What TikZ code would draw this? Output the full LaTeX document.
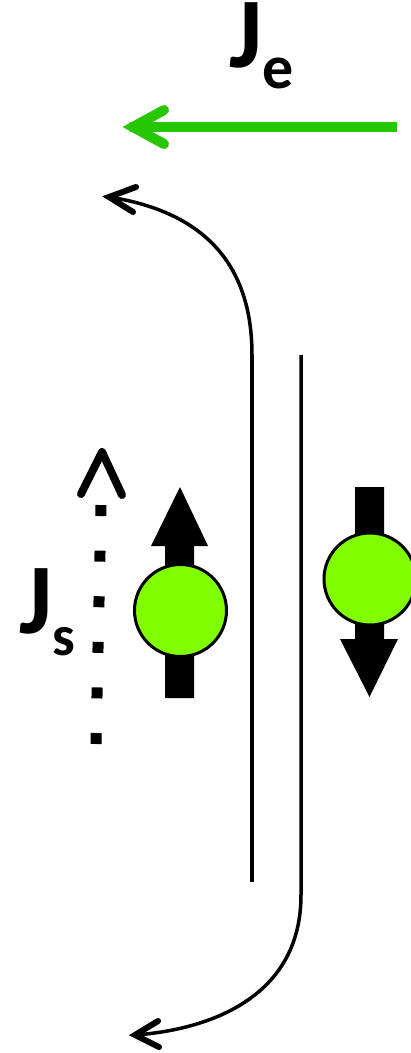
\documentclass[tikz,border=0pt]{standalone}
\usepackage{fontspec}
\setmainfont{Carlito}
\tikzset{
  lbl/.style={inner sep=0pt, anchor=base west, font=\bfseries\fontsize{#1}{#1}\selectfont},
  thinline/.style={line width=3.5pt, black},
  chev/.style={line width=6pt, line cap=round, line join=miter},
  spinball/.style={circle, draw=black, line width=3pt, fill=ballgreen, minimum size=92pt, inner sep=0pt},
}
\definecolor{ballgreen}{RGB}{128,255,0}
\definecolor{jgreen}{RGB}{38,198,0}
\begin{document}
\begin{tikzpicture}[x=1pt,y=-1pt]
\useasboundingbox (0,0) rectangle (411,1053);
% labels
\node[lbl=100] (Je) at (229,67) {J};
\node[lbl=62] (Jesub) at (262,88) {e};
\node[lbl=100] (Js) at (19,633) {J};
\node[lbl=57] (Jssub) at (52,655) {s};
% electron current arrow
\coordinate (ge1) at (397,127);
\coordinate (ge2) at (130,127);
\draw[jgreen, line width=10pt] (ge1) -- (ge2);
\draw[jgreen, line width=10pt, line cap=round, line join=miter] (164,110) -- (133,127) -- (164,144);
% interface lines
\coordinate (lt) at (252,355);
\coordinate (lb) at (252,882);
\coordinate (rt) at (301,355);
\coordinate (rb) at (301,895);
\coordinate (tipT) at (109,197);
\coordinate (tipB) at (135,1035);
\draw[thinline] (lt) -- (lb);
\draw[thinline] (rt) -- (rb) .. controls (301,1000) and (205,1030) .. (tipB);
\draw[thinline] (lt) .. controls (252,265) and (205,212) .. (tipT);
\draw[chev] (136,187) -- (tipT) -- (133,212);
\draw[chev] (158,1021) -- (tipB) -- (159,1047);
% spin current (dotted)
\coordinate (jsb) at (96,744);
\coordinate (jst) at (101,505);
\draw[line width=11pt, dash pattern=on 11pt off 34.6pt] (jsb) -- (jst);
\draw[line width=8pt, line cap=round, line join=round] (81,494) -- (102,452) -- (122,495);
% left spin up
\fill (165,698) -- (194,698) -- (194,546) -- (208,546) -- (180,487) -- (151,546) -- (165,546) -- cycle;
\node[spinball] (upball) at (180.5,610.5) {};
% right spin down
\fill (355,487) -- (384,487) -- (384,639) -- (398,639) -- (369.5,697) -- (340,639) -- (355,639) -- cycle;
\node[spinball] (downball) at (370,579) {};
\end{tikzpicture}
\end{document}
